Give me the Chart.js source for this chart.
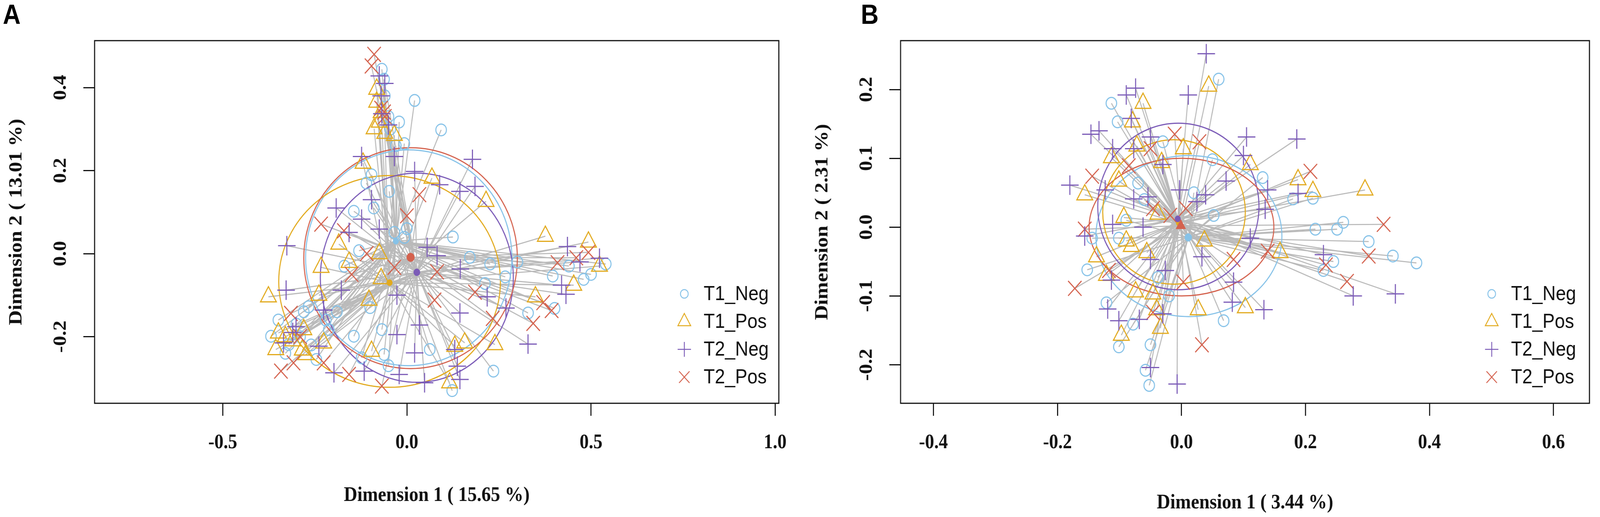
<!DOCTYPE html>
<html>
<head>
<meta charset="utf-8">
<script src="https://cdn.jsdelivr.net/npm/chart.js@4.4.1/dist/chart.umd.min.js"></script>
<style>
  html, body { margin: 0; padding: 0; background: #fff; overflow: hidden; }
  #wrap { position: relative; width: 4550px; height: 1323px; overflow: hidden; transform-origin: 0 0; }
  canvas { position: absolute; top: 0; }
  #cA { left: 0; }
  #cB { left: 2275px; }
  .tag { position: absolute; font-family: "Liberation Sans", Arial, sans-serif; font-weight: bold; font-size: 70px; line-height: 1; color: #000; }
</style>
</head>
<body>
<div id="wrap">
  <canvas id="cA" width="2275" height="1323"></canvas>
  <canvas id="cB" width="2275" height="1323"></canvas>
  <div class="tag" style="left:8px;top:2px">A</div>
  <div class="tag" style="left:2448px;top:2px">B</div>
</div>
<script>
// fit the 4550x1323 figure into whatever viewport we actually get
(function fit() {
  const sx = window.innerWidth / 4550, sy = window.innerHeight / 1323;
  if (Math.abs(sx - 1) > 0.002 || Math.abs(sy - 1) > 0.002) {
    document.getElementById('wrap').style.transform = 'scale(' + sx + ',' + sy + ')';
  }
})();

// groups and colours
const groupNames = ['T1_Neg', 'T1_Pos', 'T2_Neg', 'T2_Pos'];
const groupColors = ['#86C2E8', '#E2AA1E', '#7B5BB7', '#D4624E'];

// ---- panel A : sample coordinates (Dimension 1, Dimension 2) ----
const A_T1_Neg = [[-0.068,0.444],[-0.062,0.42],[0.021,0.369],[0.093,0.298],[-0.021,0.317],[-0.007,0.265],[-0.096,0.19],[-0.048,0.15],[-0.144,0.102],[-0.034,0.051],[-0.007,0.039],[0.125,0.04],[-0.13,0.007],[0.171,-0.009],[0.226,-0.025],[0.267,-0.056],[0.48,-0.062],[0.54,-0.025],[0.396,-0.054],[0.401,-0.132],[0.329,-0.143],[0.235,-0.283],[0.123,-0.33],[0.062,-0.231],[-0.068,-0.183],[-0.123,-0.251],[-0.267,-0.128],[-0.349,-0.16],[-0.369,-0.199],[-0.321,-0.219],[-0.246,-0.255],[-0.212,-0.183],[-0.144,-0.199],[-0.062,-0.243],[0.212,-0.072],[-0.09,0.11],[-0.17,-0.03],[-0.29,-0.2],[-0.33,-0.24],[0.0,0.06],[-0.19,-0.14],[-0.1,-0.13],[-0.05,-0.27],[-0.11,0.17],[-0.05,0.33],[-0.06,0.38],[-0.045,0.3],[-0.03,0.26],[0.44,-0.03],[0.5,-0.05],[0.3,-0.02],[-0.3,-0.17],[-0.26,-0.22],[-0.22,-0.16],[-0.28,-0.14]];
const A_T1_Pos = [[-0.082,0.396],[-0.082,0.365],[-0.075,0.317],[-0.089,0.301],[-0.034,0.285],[-0.119,0.218],[0.068,0.182],[0.215,0.126],[-0.185,0.023],[0.376,0.042],[0.493,0.028],[0.523,-0.03],[-0.075,0.0],[-0.233,-0.033],[-0.157,-0.021],[-0.376,-0.104],[-0.239,-0.1],[-0.103,-0.112],[0.453,-0.076],[0.349,-0.104],[0.239,-0.219],[0.157,-0.215],[0.13,-0.223],[-0.349,-0.191],[-0.356,-0.231],[-0.28,-0.183],[-0.274,-0.243],[-0.284,-0.232],[-0.096,-0.235],[0.116,-0.311],[-0.226,-0.215],[-0.07,-0.06],[-0.07,0.34],[-0.06,0.29],[-0.31,-0.21],[-0.33,-0.2]];
const A_T2_Neg = [[-0.075,0.428],[-0.068,0.337],[-0.034,0.234],[-0.123,0.234],[0.178,0.227],[0.021,0.198],[0.089,0.166],[0.144,0.15],[0.185,0.162],[-0.096,0.13],[-0.192,0.11],[-0.123,0.083],[-0.075,0.059],[-0.157,0.051],[-0.326,0.019],[0.055,0.015],[0.082,-0.005],[0.145,-0.037],[-0.328,-0.088],[-0.178,-0.088],[-0.226,-0.136],[-0.027,-0.1],[0.034,-0.172],[0.144,-0.143],[0.218,-0.104],[0.269,-0.131],[0.42,-0.076],[0.436,0.017],[0.523,-0.011],[0.432,-0.098],[0.329,-0.218],[-0.301,-0.176],[-0.239,-0.223],[-0.198,-0.287],[-0.116,-0.283],[-0.027,-0.195],[0.021,-0.239],[-0.021,-0.291],[0.048,-0.311],[0.13,-0.231],[0.137,-0.271],[0.144,-0.303],[-0.335,-0.215],[-0.06,0.41],[-0.07,0.38],[-0.05,0.31],[0.47,-0.02],[-0.31,-0.19]];
const A_T2_Pos = [[-0.089,0.48],[-0.096,0.452],[-0.062,0.341],[0.0,0.091],[0.034,0.142],[-0.233,0.071],[-0.109,0.0],[-0.034,-0.033],[0.082,-0.044],[0.075,-0.112],[0.185,-0.093],[0.233,-0.156],[0.343,-0.168],[0.409,-0.022],[0.37,-0.118],[0.393,-0.137],[0.493,0.003],[-0.315,-0.144],[-0.342,-0.283],[-0.308,-0.263],[-0.226,-0.263],[-0.157,-0.291],[-0.068,-0.319],[-0.171,0.055],[-0.07,0.35],[-0.15,-0.05],[-0.06,0.33],[0.46,-0.01],[-0.29,-0.2]];
// group centroids and dispersion ellipses [cx, cy, rx, ry]
const A_centroids = [[-0.03,0.03],[-0.047,-0.07],[0.027,-0.045],[0.01,-0.009]];
const A_ellipses = [[0.005,-0.01,0.28,0.26],[-0.047,-0.067,0.301,0.255],[0.027,-0.058,0.262,0.252],[0.01,-0.011,0.29,0.266]];
const A_xTicks = [-0.5, 0.0, 0.5, 1.0];
const A_yTicks = [-0.2, 0.0, 0.2, 0.4];

// ---- panel B ----
const B_T1_Neg = [[0.06,0.215],[-0.113,0.18],[-0.103,0.153],[0.131,0.072],[0.18,0.041],[0.212,0.042],[0.216,-0.003],[0.251,-0.003],[0.261,0.007],[0.302,-0.021],[0.341,-0.042],[0.379,-0.052],[0.245,-0.05],[0.229,-0.063],[0.068,-0.136],[-0.144,-0.016],[-0.152,-0.062],[-0.101,-0.174],[-0.05,-0.171],[-0.058,-0.208],[-0.052,-0.23],[-0.121,-0.11],[-0.07,0.064],[0.05,0.098],[-0.03,0.124],[-0.089,0.01],[-0.101,-0.016],[-0.038,-0.073],[0.052,0.017],[-0.078,-0.141],[-0.06,0.04],[-0.02,-0.1],[0.02,0.05]];
const B_T1_Pos = [[0.044,0.205],[-0.062,0.18],[-0.079,0.153],[-0.072,0.118],[0.003,0.114],[-0.113,0.101],[-0.032,0.094],[0.111,0.091],[-0.101,0.067],[-0.156,0.047],[0.188,0.069],[0.212,0.052],[0.296,0.054],[-0.093,0.014],[-0.038,0.019],[-0.137,-0.043],[-0.089,-0.02],[-0.081,-0.028],[0.037,-0.02],[0.159,-0.037],[-0.121,-0.07],[-0.056,-0.037],[-0.074,-0.094],[-0.046,-0.097],[0.027,-0.12],[0.103,-0.117],[-0.034,-0.147],[-0.097,-0.157],[-0.04,-0.12]];
const B_T2_Neg = [[0.04,0.252],[0.011,0.192],[-0.074,0.202],[-0.089,0.192],[-0.146,0.135],[-0.133,0.14],[-0.081,0.158],[-0.05,0.131],[-0.111,0.114],[-0.077,0.114],[0.105,0.131],[0.186,0.128],[0.1,0.104],[-0.03,0.091],[-0.18,0.061],[-0.123,0.054],[0.072,0.067],[0.139,0.054],[0.188,0.049],[-0.077,0.041],[-0.054,0.044],[-0.003,0.054],[0.039,0.047],[0.025,0.037],[-0.111,0.004],[-0.062,0.0],[-0.156,-0.013],[0.111,-0.016],[0.135,0.026],[0.033,-0.043],[-0.05,-0.047],[-0.026,-0.063],[-0.113,-0.077],[0.084,-0.08],[0.082,-0.109],[0.133,-0.12],[-0.119,-0.119],[-0.101,-0.136],[-0.068,-0.134],[-0.03,-0.126],[-0.05,-0.204],[-0.007,-0.228],[0.229,-0.04],[0.277,-0.1],[0.345,-0.097]];
const B_T2_Pos = [[-0.011,0.135],[0.029,0.124],[0.208,0.081],[-0.144,0.074],[-0.085,0.089],[-0.05,0.114],[-0.046,0.027],[-0.018,0.017],[0.007,0.027],[0.326,0.004],[0.302,-0.042],[0.233,-0.055],[0.267,-0.079],[0.139,-0.035],[0.084,-0.047],[-0.172,-0.089],[-0.156,-0.003],[-0.117,-0.063],[0.003,-0.08],[0.033,-0.171],[-0.046,-0.124]];
const B_centroids = [[0.011,-0.015],[-0.004,0.006],[-0.006,0.012],[-0.001,0.002]];
const B_ellipses = [[0.012,-0.013,0.15,0.117],[-0.012,0.022,0.115,0.105],[-0.005,0.03,0.13,0.121],[0.0,0.0,0.149,0.1]];
const B_xTicks = [-0.4, -0.2, 0.0, 0.2, 0.4, 0.6];
const B_yTicks = [-0.2, -0.1, 0.0, 0.1, 0.2];

const pointStyles = ['circle', 'triangle', 'cross', 'crossRot'];
const pointSizes = [15, 26, 25, 27];
const serif = '"Liberation Serif", "Times New Roman", serif';
const sans = '"Liberation Sans", Arial, sans-serif';

function toXY(arr) { return arr.map(p => ({x: p[0], y: p[1]})); }

// spokes + ellipses underneath, frame, rotated y labels and legend on top
function overlay(groups, centroids, ellipses, yTicks, legendX) {
  return {
    id: 'overlay',
    beforeDatasetsDraw(chart) {
      const {ctx, chartArea: a, scales: {x, y}} = chart;
      ctx.save();
      ctx.beginPath();
      ctx.rect(a.left, a.top, a.right - a.left, a.bottom - a.top);
      ctx.clip();
      ctx.strokeStyle = '#BABABA';
      ctx.lineWidth = 2.8;
      groups.forEach((pts, g) => {
        const cx = x.getPixelForValue(centroids[g][0]);
        const cy = y.getPixelForValue(centroids[g][1]);
        pts.forEach(p => {
          ctx.beginPath();
          ctx.moveTo(x.getPixelForValue(p[0]), y.getPixelForValue(p[1]));
          ctx.lineTo(cx, cy);
          ctx.stroke();
        });
      });
      ctx.lineWidth = 3;
      ellipses.forEach((e, g) => {
        const cx = x.getPixelForValue(e[0]), cy = y.getPixelForValue(e[1]);
        const rx = Math.abs(x.getPixelForValue(e[0] + e[2]) - cx);
        const ry = Math.abs(y.getPixelForValue(e[1] + e[3]) - cy);
        ctx.beginPath();
        ctx.ellipse(cx, cy, rx, ry, 0, 0, Math.PI * 2);
        ctx.strokeStyle = groupColors[g];
        ctx.stroke();
      });
      ctx.restore();
    },
    afterDraw(chart) {
      const {ctx, chartArea: a, scales: {y}} = chart;
      ctx.save();
      ctx.strokeStyle = '#111';
      ctx.lineWidth = 3;
      ctx.strokeRect(a.left, a.top, a.right - a.left, a.bottom - a.top);

      ctx.fillStyle = '#111';
      ctx.font = 'bold 52px ' + serif;
      ctx.textAlign = 'center';
      ctx.textBaseline = 'middle';
      yTicks.forEach(v => {
        ctx.save();
        ctx.translate(a.left - 95, y.getPixelForValue(v));
        ctx.rotate(-Math.PI / 2);
        ctx.fillText(v.toFixed(1), 0, 0);
        ctx.restore();
      });

      // legend
      const rows = [752, 823, 894, 965];
      const legSizes = [11, 21, 19, 21];
      ctx.font = '52px ' + sans;
      ctx.textAlign = 'left';
      groupNames.forEach((name, g) => {
        ctx.strokeStyle = groupColors[g];
        ctx.fillStyle = 'rgba(0,0,0,0)';
        ctx.lineWidth = 2.5;
        Chart.helpers.drawPoint(ctx, {pointStyle: pointStyles[g], radius: legSizes[g], rotation: 0, borderWidth: 2.5}, legendX, rows[g]);
        ctx.fillStyle = '#111';
        ctx.fillText(name, legendX + 55, rows[g] + 2);
      });
      ctx.restore();
    }
  };
}

function buildPanel(id, groups, centroids, ellipses, xTicks, yTicks, range, titles, dims) {
  const datasets = [{
    data: toXY(centroids),
    pointStyle: dims.centroidStyles,
    pointRadius: dims.centroidSizes,
    pointBackgroundColor: groupColors,
    pointBorderColor: groupColors,
    pointBorderWidth: 1
  }];
  [2, 3, 1, 0].forEach(g => {
    datasets.push({
      label: groupNames[g],
      data: toXY(groups[g]),
      pointStyle: pointStyles[g],
      pointRadius: pointSizes[g],
      pointBorderWidth: 3,
      pointBorderColor: groupColors[g],
      pointBackgroundColor: 'rgba(0,0,0,0)'
    });
  });

  const tickFont = {family: serif, weight: 'bold', size: 52};
  const titleFont = {family: serif, weight: 'bold', size: 53};
  new Chart(document.getElementById(id), {
    type: 'scatter',
    data: {datasets},
    options: {
      responsive: false,
      animation: false,
      devicePixelRatio: 1,
      events: [],
      layout: {padding: {top: 104, right: dims.padRight, left: 0, bottom: 0}},
      plugins: {legend: {display: false}, tooltip: {enabled: false}},
      scales: {
        x: {
          type: 'linear',
          min: range[0], max: range[1],
          afterBuildTicks: s => { s.ticks = xTicks.map(v => ({value: v})); },
          afterFit: s => { s.height = 291; },
          border: {display: false},
          grid: {drawOnChartArea: false, drawTicks: true, tickLength: 32, tickWidth: 3, tickColor: '#111'},
          ticks: {font: tickFont, color: '#111', padding: 38, maxRotation: 0, autoSkip: false,
                  callback: v => Number(v).toFixed(1)},
          title: {display: true, text: titles[0], color: '#111', font: titleFont,
                  padding: {top: 0, bottom: dims.xTitlePad}}
        },
        y: {
          type: 'linear',
          min: range[2], max: range[3],
          afterBuildTicks: s => { s.ticks = yTicks.map(v => ({value: v})); },
          afterFit: s => { s.width = dims.yWidth; },
          border: {display: false},
          grid: {drawOnChartArea: false, drawTicks: true, tickLength: 32, tickWidth: 3, tickColor: '#111'},
          ticks: {font: tickFont, color: 'rgba(0,0,0,0)', autoSkip: false,
                  callback: v => Number(v).toFixed(1)},
          title: {display: true, text: titles[1], color: '#111', font: titleFont,
                  padding: {top: dims.yTitlePad, bottom: 0}}
        }
      }
    },
    plugins: [overlay(groups, centroids, ellipses, yTicks, dims.legendX)]
  });
}

buildPanel('cA', [A_T1_Neg, A_T1_Pos, A_T2_Neg, A_T2_Pos], A_centroids, A_ellipses,
  A_xTicks, A_yTicks, [-0.848, 1.010, -0.3605, 0.513],
  ['Dimension 1 ( 15.65 %)', 'Dimension 2 ( 13.01 %)'],
  {padRight: 36, yWidth: 269, xTitlePad: 23, yTitlePad: 16, legendX: 1946,
   centroidStyles: ['circle', 'circle', 'circle', 'circle'], centroidSizes: [8, 8, 9, 11]});

buildPanel('cB', [B_T1_Neg, B_T1_Pos, B_T2_Neg, B_T2_Pos], B_centroids, B_ellipses,
  B_xTicks, B_yTicks, [-0.453, 0.658, -0.256, 0.271],
  ['Dimension 1 ( 3.44 %)', 'Dimension 2 ( 2.31 %)'],
  {padRight: 17, yWidth: 286, xTitlePad: 4, yTitlePad: 33, legendX: 1967,
   centroidStyles: ['circle', 'circle', 'circle', 'triangle'], centroidSizes: [10, 8, 8, 16]});
</script>
</body>
</html>
